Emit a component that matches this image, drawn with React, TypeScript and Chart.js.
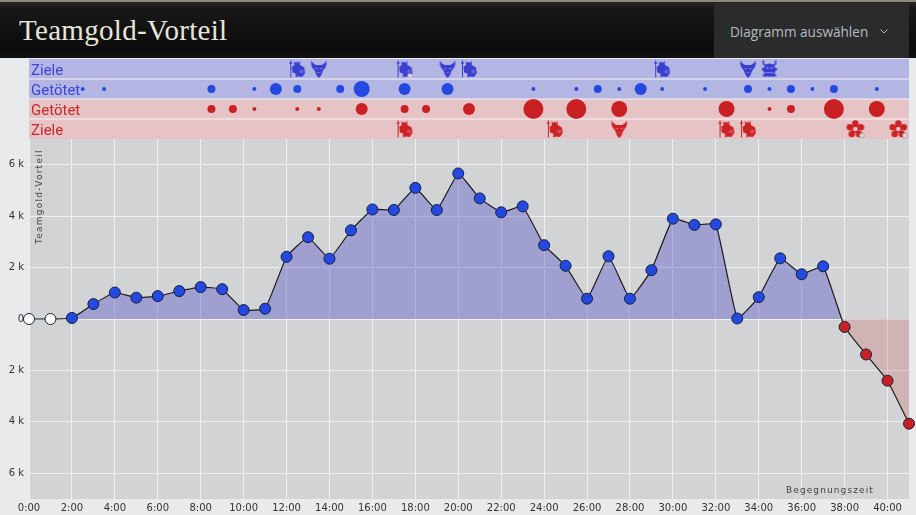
import React, { useEffect, useRef } from "react";
import { Chart, registerables } from "chart.js";

Chart.register(...registerables);

const minutes = [0,1,2,3,4,5,6,7,8,9,10,11,12,13,14,15,16,17,18,19,20,21,22,23,24,25,26,27,28,29,30,31,32,33,34,35,36,37,38,39,40,41];
const goldAdvantage = [0,0,40,580,1030,830,890,1085,1240,1160,350,400,2420,3180,2345,3450,4260,4240,5100,4240,5660,4690,4150,4380,2870,2070,790,2440,790,1900,3900,3660,3680,20,850,2360,1740,2050,-310,-1380,-2400,-4070];
const yTicks = [-6000,-4000,-2000,0,2000,4000,6000];

const blueKillTimes = [2.5,3.5,8.5,10.5,11.5,12.5,14.5,15.5,17.5,19.5,23.5,25.5,26.5,27.5,28.5,29.5,31.5,33.5,34.5,35.5,36.5,37.5,39.5];
const blueKillCounts = [1,1,2,1,3,2,2,4,3,3,1,1,2,1,3,1,1,2,1,2,1,2,1];
const redKillTimes = [8.5,9.5,10.5,12.5,13.5,15.5,17.5,18.5,20.5,23.5,25.5,27.5,32.5,34.5,35.5,37.5,39.5];
const redKillCounts = [2,2,1,1,1,3,2,2,3,5,5,4,4,1,2,5,4];

const blueTowerTimes = [12.5,20.5,29.5];
const blueMarkedTowerTimes = [17.5];
const blueDragonTimes = [13.5,19.5,33.5];
const blueHeraldTimes = [34.5];
const redTowerTimes = [17.5,24.5,32.5,33.5];
const redDragonTimes = [27.5];
const redFlowerTimes = [38.5,40.5];

const rowLabels = ["Ziele", "Getötet", "Getötet", "Ziele"];
const BLUE = "#2449e0";
const RED = "#c92024";
const ICON_BLUE = "#3a3fd0";
const ICON_RED = "#cc2226";
const MAX_MIN = 41;

function icon(kind: string, color: string) {
  const c = document.createElement("canvas");
  c.width = 20; c.height = 20;
  const g = c.getContext("2d")!;
  g.translate(1, 1);
  g.fillStyle = color; g.strokeStyle = color;
  if (kind === "tower" || kind === "towerMarked") {
    g.lineWidth = 1;
    g.beginPath(); g.moveTo(2.5, 0.5); g.lineTo(2.5, 17.5); g.stroke();
    g.beginPath(); g.moveTo(1, 4); g.lineTo(2.5, 0); g.lineTo(4, 4); g.fill();
    g.beginPath();
    g.moveTo(5.5, 0.5); g.lineTo(7, 3); g.lineTo(8.5, 1.5); g.lineTo(10, 3); g.lineTo(11.5, 0.5); g.lineTo(11.8, 5);
    g.lineTo(16, 7.5); g.lineTo(16.8, 13); g.lineTo(14, 17); g.lineTo(10, 16.5); g.lineTo(7.5, 17.5); g.lineTo(7.3, 13.5); g.lineTo(4.2, 12.5); g.lineTo(3.5, 7); g.lineTo(6, 5);
    g.closePath(); g.fill();
    g.fillStyle = "rgba(255,255,255,0.2)";
    g.beginPath(); g.arc(13.3, 11.5, 2, 0, Math.PI * 2); g.fill();
    if (kind === "towerMarked") {
      g.fillStyle = "rgba(225,225,230,0.95)";
      g.beginPath(); g.arc(14, 15.5, 2, 0, Math.PI * 2); g.fill();
    }
  } else if (kind === "dragon") {
    g.beginPath();
    g.moveTo(1.5, 0.5); g.quadraticCurveTo(3, 4, 6, 5); g.lineTo(12, 5); g.quadraticCurveTo(15, 4, 16.5, 0.5);
    g.quadraticCurveTo(17.5, 7, 13.5, 10); g.lineTo(11, 16); g.lineTo(9, 18); g.lineTo(7, 16); g.lineTo(4.5, 10);
    g.quadraticCurveTo(0.5, 7, 1.5, 0.5); g.fill();
    g.fillStyle = "rgba(255,255,255,0.3)";
    g.fillRect(5.5, 8, 2.5, 1.2); g.fillRect(10, 8, 2.5, 1.2); g.fillRect(7.5, 12, 3, 0.9);
  } else if (kind === "herald") {
    g.lineWidth = 1.6;
    g.beginPath(); g.moveTo(3, 0.5); g.quadraticCurveTo(2, 5, 6, 5.5); g.moveTo(15, 0.5); g.quadraticCurveTo(16, 5, 12, 5.5); g.stroke();
    g.beginPath(); g.ellipse(9, 10, 6.2, 6.4, 0, 0, Math.PI * 2); g.fill();
    g.fillRect(1.5, 8, 15, 2.5);
    g.fillRect(2.5, 14, 13, 2.5);
    g.fillStyle = "rgba(255,255,255,0.3)";
    g.fillRect(6, 7, 2, 2); g.fillRect(10, 7, 2, 2); g.fillRect(5, 12, 8, 1.2);
  } else {
    const pts: [number, number][] = [[9,3.4],[14.6,7.2],[12.6,14],[5.4,14],[3.4,7.2]];
    pts.forEach(([x, y]) => { g.beginPath(); g.arc(x, y, 3.2, 0, Math.PI * 2); g.fill(); });
    g.lineWidth = 1.4; g.beginPath(); g.arc(9, 9, 3, 0, Math.PI * 2); g.stroke();
    g.fillStyle = "rgba(225,225,225,0.95)"; g.strokeStyle = "#8a8a8a"; g.lineWidth = 0.6;
    g.beginPath(); g.arc(15.5, 15.5, 2.4, 0, Math.PI * 2); g.fill(); g.stroke();
  }
  return c;
}

const toPoints = (xs: number[], y: number) => xs.map((x) => ({ x, y }));
const fmtTime = (v: number) => `${v}:00`;
const fmtGold = (v: number) => (v === 0 ? "0" : `${Math.abs(v) / 1000} k`);

const bandPlugin = {
  id: "bands",
  beforeDatasetsDraw(ch: any) {
    const { ctx, chartArea: a, scales } = ch;
    const y = scales.y;
    ctx.save();
    for (let i = 0; i < 4; i++) {
      const t = y.getPixelForValue(i - 0.5), b = y.getPixelForValue(i + 0.5);
      ctx.fillStyle = i < 2 ? "#b3b5e3" : "#e6c3c5";
      ctx.fillRect(a.left, t, a.right - a.left, b - t);
      if (i > 0) { ctx.fillStyle = "#f4f4f6"; ctx.fillRect(a.left, t - 0.5, a.right - a.left, 1); }
      ctx.fillStyle = i < 2 ? "#3f46d4" : "#c9282c";
      ctx.font = "15px Roboto";
      ctx.textBaseline = "middle";
      ctx.fillText(rowLabels[i], a.left + 2, (t + b) / 2 + 2);
    }
    ctx.restore();
  },
};

const plotBgPlugin = {
  id: "plotBg",
  beforeDraw(ch: any) {
    const { ctx, chartArea: a } = ch;
    ctx.save();
    ctx.fillStyle = "#d1d3d5";
    ctx.fillRect(a.left + 1, a.top, a.right - a.left - 1, a.bottom - a.top);
    ctx.restore();
  },
};

export default function App() {
  const topRef = useRef<HTMLCanvasElement>(null);
  const mainRef = useRef<HTMLCanvasElement>(null);

  useEffect(() => {
    document.body.style.margin = "0";
    document.body.style.background = "#e9eaec";
    const iconSet = (label: string, times: number[], row: number, kind: string, color: string) => ({
      type: "scatter" as const, label, data: toPoints(times, row),
      pointStyle: icon(kind, color) as any, pointRadius: 10,
    });
    const top = new Chart(topRef.current!, {
      type: "bubble",
      plugins: [bandPlugin],
      data: {
        datasets: [
          iconSet("Blue towers", blueTowerTimes, 0, "tower", ICON_BLUE),
          iconSet("Blue marked towers", blueMarkedTowerTimes, 0, "towerMarked", ICON_BLUE),
          iconSet("Blue dragons", blueDragonTimes, 0, "dragon", ICON_BLUE),
          iconSet("Blue herald", blueHeraldTimes, 0, "herald", ICON_BLUE),
          { label: "Blue kills", data: blueKillTimes.map((x, i) => ({ x, y: 1, r: blueKillCounts[i] * 2 })), backgroundColor: BLUE, borderWidth: 0 },
          { label: "Red kills", data: redKillTimes.map((x, i) => ({ x, y: 2, r: redKillCounts[i] * 2 })), backgroundColor: RED, borderWidth: 0 },
          iconSet("Red towers", redTowerTimes, 3, "tower", ICON_RED),
          iconSet("Red dragons", redDragonTimes, 3, "dragon", ICON_RED),
          iconSet("Red flowers", redFlowerTimes, 3, "flower", ICON_RED),
        ] as any,
      },
      options: {
        animation: false, responsive: false, devicePixelRatio: 1,
        layout: { padding: 0, autoPadding: false },
        plugins: { legend: { display: false }, tooltip: { enabled: false } },
        scales: {
          x: { type: "linear", min: 0, max: MAX_MIN, display: false },
          y: { type: "linear", min: -0.5, max: 3.5, reverse: true, display: false },
        },
      },
    });

    const main = new Chart(mainRef.current!, {
      type: "line",
      plugins: [plotBgPlugin],
      data: {
        datasets: [{
          label: "Teamgold-Vorteil",
          data: minutes.map((x, i) => ({ x, y: goldAdvantage[i] })),
          borderColor: "#1a1a1a", borderWidth: 1.2,
          tension: 0.1,
          fill: { target: { value: 0 }, above: "rgba(90,90,200,0.42)", below: "rgba(200,90,90,0.26)" },
          pointRadius: 5.5, pointHoverRadius: 5.5, pointBorderWidth: 1,
          pointBorderColor: "#15203f",
          pointBackgroundColor: goldAdvantage.map((v, i) => (i < 2 ? "#ffffff" : v < 0 ? RED : BLUE)),
          clip: false,
        }] as any,
      },
      options: {
        animation: false, responsive: false, devicePixelRatio: 1,
        layout: { padding: { left: 0, right: 7, top: 0, bottom: 0 }, autoPadding: false },
        plugins: {
          legend: { display: false }, tooltip: { enabled: false },
        },
        scales: {
          x: {
            type: "linear", min: 0, max: MAX_MIN,
            afterBuildTicks: (ax: any) => { ax.ticks = minutes.filter((m) => m % 2 === 0).map((value) => ({ value })); },
            afterFit: (ax: any) => { ax.height = 16; ax.paddingLeft = 0; ax.paddingRight = 0; },
            ticks: { autoSkip: false, maxRotation: 0, callback: (v: any) => fmtTime(v), color: "#333", font: { family: "DejaVu Sans", size: 10 }, padding: 3 },
            grid: { color: "#eef0f0", lineWidth: 1, drawTicks: false },
            border: { display: false },
            title: { display: false },
          },
          y: {
            type: "linear", min: -7000, max: 7000,
            afterBuildTicks: (ax: any) => { ax.ticks = yTicks.map((value) => ({ value })); },
            afterFit: (ax: any) => { ax.width = 29; ax.paddingTop = 0; ax.paddingBottom = 0; },
            ticks: { callback: (v: any) => fmtGold(v), color: "#333", font: { family: "DejaVu Sans", size: 10 }, padding: 5 },
            grid: { color: "#eef0f0", lineWidth: 1, drawTicks: false },
            border: { display: false },
          },
        },
      },
    });
    return () => { top.destroy(); main.destroy(); };
  }, []);

  return (
    <div style={{ position: "relative", width: 916, height: 515, background: "#e9eaec", overflow: "hidden" }}>
      <div style={{ position: "absolute", left: 0, top: 0, width: 916, height: 58, background: "linear-gradient(#242424 0, #181818 12%, #0c0c0c 80%, #111 100%)", borderTop: "2px solid #8f8a78", boxSizing: "border-box" }} />
      <div style={{ position: "absolute", left: 19, top: 14, fontFamily: "Liberation Serif", fontSize: 29, color: "#e8e6dc", letterSpacing: 0.3 }}>Teamgold-Vorteil</div>
      <div style={{ position: "absolute", left: 714, top: 3, width: 195, height: 55, background: "#2b2b2c" }} />
      <div style={{ position: "absolute", left: 730, top: 22, fontFamily: "Open Sans", fontSize: 13.6, color: "#b4bcc0" }}>Diagramm auswählen</div>
      <svg style={{ position: "absolute", left: 879, top: 28 }} width="10" height="7" viewBox="0 0 10 7"><path d="M1.5 1.5 L5 5 L8.5 1.5" stroke="#b4bcc0" strokeWidth="1" fill="none" /></svg>
      <canvas ref={mainRef} width={916} height={376} style={{ position: "absolute", left: 0, top: 139 }} />
      <canvas ref={topRef} width={880} height={80} style={{ position: "absolute", left: 29, top: 59 }} />
      <div style={{ position: "absolute", left: 786, top: 485, fontFamily: "DejaVu Sans", fontSize: 9, letterSpacing: 1.1, color: "#444" }}>Begegnungszeit</div>
      <div style={{ position: "absolute", left: 34, top: 244, transform: "rotate(-90deg)", transformOrigin: "0 0", fontFamily: "DejaVu Sans", fontSize: 9, letterSpacing: 1.25, color: "#444", whiteSpace: "nowrap" }}>Teamgold-Vorteil</div>
    </div>
  );
}
